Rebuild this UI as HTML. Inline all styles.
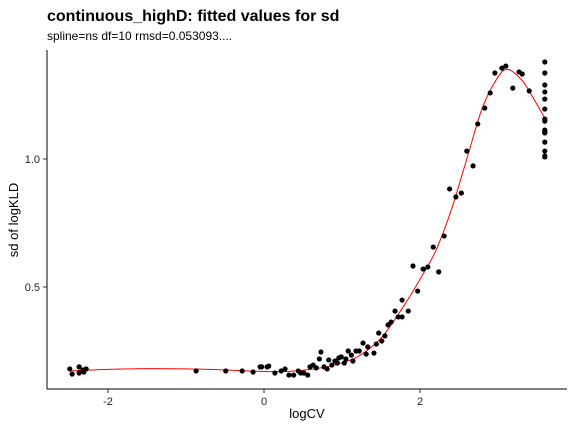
<!DOCTYPE html>
<html><head><meta charset="utf-8"><style>
body{margin:0;background:#fff}
svg{font-family:"Liberation Sans",Arial,sans-serif}
</style></head><body>
<svg width="576" height="432" viewBox="0 0 576 432">
<text x="47" y="21" font-size="16" font-weight="bold">continuous_highD: fitted values for sd</text>
<text x="47" y="40" font-size="12">spline=ns df=10 rmsd=0.053093....</text>
<g id="axes"></g>
<path id="curve" fill="none" stroke="#ff0000" stroke-width="1"></path>
<g id="pts"></g>
<text x="307" y="418" font-size="13" text-anchor="middle">logCV</text>
<text transform="translate(18,220) rotate(-90)" font-size="13" text-anchor="middle">sd of logKLD</text>
</svg>
<script>
const xs=[-2.49,-2.46,-2.37,-2.37,-2.32,-2.28,-2.31,-0.87,-0.49,-0.28,-0.14,-0.05,0.04,-0.03,0.06,0.14,0.22,0.27,0.32,0.38,0.44,0.47,0.51,0.56,0.59,0.63,0.67,0.71,0.73,0.77,0.81,0.83,0.87,0.91,0.94,0.96,0.99,1.03,1.05,1.08,1.12,1.14,1.18,1.22,1.27,1.31,1.33,1.41,1.44,1.47,1.51,1.55,1.59,1.63,1.68,1.72,1.77,1.85,1.77,1.91,1.97,2.04,2.10,2.17,2.24,2.31,2.38,2.46,2.53,2.60,2.68,2.74,2.83,2.90,2.96,3.05,3.10,3.19,3.27,3.31,3.40,3.6,3.6,3.6,3.6,3.6,3.6,3.6,3.6,3.6,3.6,3.6,3.6,3.6,3.6,3.6];
const ys=[0.180,0.160,0.188,0.164,0.176,0.180,0.168,0.172,0.172,0.172,0.168,0.188,0.188,0.188,0.191,0.164,0.172,0.180,0.156,0.156,0.172,0.164,0.164,0.156,0.188,0.195,0.184,0.219,0.246,0.188,0.180,0.215,0.195,0.211,0.203,0.223,0.227,0.203,0.219,0.250,0.234,0.211,0.250,0.250,0.281,0.238,0.266,0.242,0.277,0.320,0.289,0.309,0.352,0.363,0.406,0.383,0.383,0.406,0.449,0.582,0.484,0.570,0.578,0.656,0.559,0.699,0.883,0.852,0.867,1.031,0.973,1.137,1.199,1.258,1.336,1.355,1.363,1.277,1.340,1.332,1.266,1.379,1.336,1.289,1.262,1.234,1.195,1.156,1.148,1.113,1.105,1.102,1.066,1.031,1.012,1.008];
const cx=[-2.5,-2,-1.5,-1,-0.5,0,0.3,0.6,0.9,1.2,1.5,1.8,2.0,2.2,2.4,2.6,2.8,3.0,3.13,3.3,3.41,3.6];
const cy=[0.172,0.178,0.181,0.180,0.176,0.170,0.170,0.178,0.195,0.228,0.300,0.430,0.530,0.640,0.800,1.000,1.200,1.320,1.350,1.310,1.260,1.160];
const xTicks=[-2,0,2], xLabels=["-2","0","2"];
const yTicks=[0.5,1.0], yLabels=["0.5","1.0"];
const X=v=>264+78*v, Y=v=>415-256*v;
const NS="http://www.w3.org/2000/svg";
const ax=document.getElementById('axes');
function mk(t,a,p){const e=document.createElementNS(NS,t);for(const k in a)e.setAttribute(k,a[k]);p.appendChild(e);return e;}
let l=mk('line',{x1:47,y1:389,x2:567,y2:389,stroke:'#000','stroke-width':1},ax);


l=mk('line',{x1:47,y1:50,x2:47,y2:389,stroke:'#000','stroke-width':1},ax);


xTicks.forEach((v,i)=>{
 const t=mk('line',{x1:X(v),y1:389,x2:X(v),y2:393,stroke:'#333'},ax);
 
 
 const s=mk('text',{x:X(v),y:405,'font-size':11,'text-anchor':'middle',fill:'#222'},ax);s.textContent=xLabels[i];
 
 
});
yTicks.forEach((v,i)=>{
 const t=mk('line',{x1:43,y1:Y(v),x2:47,y2:Y(v),stroke:'#333'},ax);
 
 
 const s=mk('text',{x:40,y:Y(v)+4,'font-size':11,'text-anchor':'end',fill:'#222'},ax);s.textContent=yLabels[i];
 
 
});
// smooth curve (catmull-rom)
const P=cx.map((v,i)=>[X(v),Y(cy[i])]);
let d='M'+P[0][0]+','+P[0][1];
for(let i=0;i<P.length-1;i++){
 const p0=P[Math.max(0,i-1)],p1=P[i],p2=P[i+1],p3=P[Math.min(P.length-1,i+2)];
 d+=' C'+(p1[0]+(p2[0]-p0[0])/6)+','+(p1[1]+(p2[1]-p0[1])/6)+' '+(p2[0]-(p3[0]-p1[0])/6)+','+(p2[1]-(p3[1]-p1[1])/6)+' '+p2[0]+','+p2[1];
}
document.getElementById('curve').setAttribute('d',d);
const g=document.getElementById('pts');
xs.forEach((v,i)=>{
 const c=mk('circle',{cx:X(v),cy:Y(ys[i]),r:2.6,fill:'#000'},g);
 
 
});
</script>
</body></html>
